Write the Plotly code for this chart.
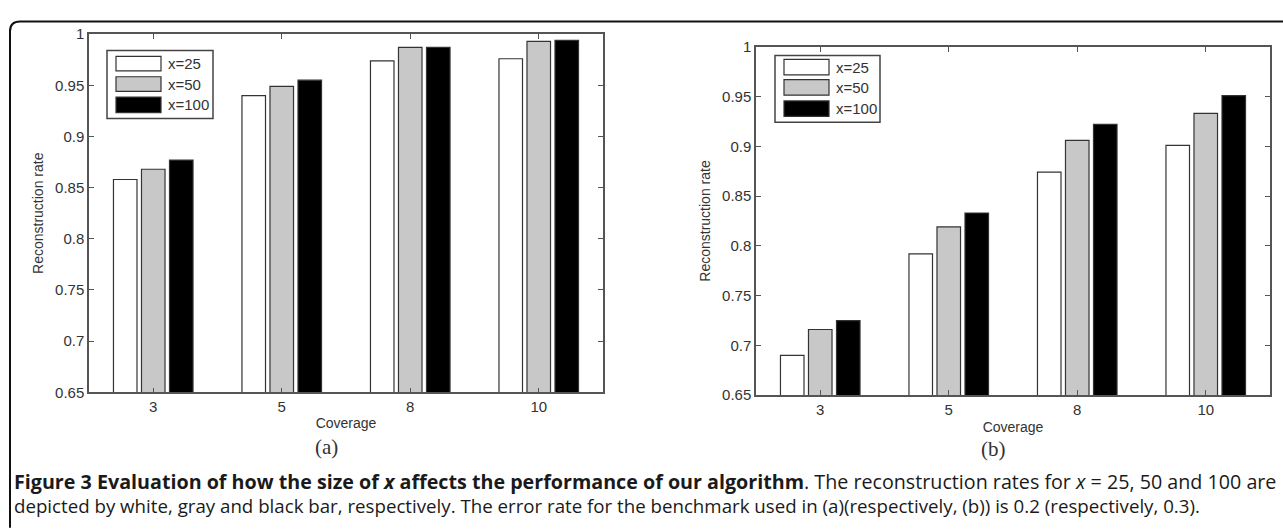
import plotly.graph_objects as go

W, H = 1283, 531

coverage = ["3", "5", "8", "10"]
series_names = ["x=25", "x=50", "x=100"]
series_colors = ["#ffffff", "#c8c8c8", "#000000"]

# panel (a): error rate 0.2
a_x25 = [0.858, 0.940, 0.974, 0.976]
a_x50 = [0.868, 0.949, 0.987, 0.993]
a_x100 = [0.877, 0.955, 0.987, 0.994]

# panel (b): error rate 0.3
b_x25 = [0.690, 0.792, 0.874, 0.901]
b_x50 = [0.716, 0.819, 0.906, 0.933]
b_x100 = [0.725, 0.833, 0.922, 0.951]

yticks = [0.65, 0.7, 0.75, 0.8, 0.85, 0.9, 0.95, 1]
ytick_text = ["0.65", "0.7", "0.75", "0.8", "0.85", "0.9", "0.95", "1"]


def px(x):
    return x / W


def py(y):
    return 1 - y / H


fig = go.Figure()

panels = [
    ("x", "y", [a_x25, a_x50, a_x100]),
    ("x2", "y2", [b_x25, b_x50, b_x100]),
]
for xa, ya, vals in panels:
    for name, color, v in zip(series_names, series_colors, vals):
        fig.add_trace(go.Bar(
            x=coverage, y=v, name=name, xaxis=xa, yaxis=ya,
            marker=dict(color=color, line=dict(color="#333333", width=1.2)),
            showlegend=False,
        ))

sans = "Liberation Sans Narrow, Arial Narrow, Liberation Sans, Arial"
tick_font = dict(family=sans, size=15, color="#333333")
title_font = dict(family=sans, size=14, color="#333333")

axis_common = dict(
    showline=True, linecolor="#555555", linewidth=1.5, mirror="ticks",
    ticks="inside", ticklen=5, tickcolor="#555555", tickwidth=1.3,
    showgrid=False, zeroline=False, tickfont=tick_font,
)

# panel geometry in pixels
A = dict(x0=89, x1=603, y0=26, y1=396)
B = dict(x0=756, x1=1270, y0=39, y1=399)

fig.update_layout(
    width=W, height=H,
    margin=dict(l=0, r=0, t=0, b=0),
    paper_bgcolor="white", plot_bgcolor="white",
    barmode="group", bargap=0.346, bargroupgap=0.16,
    xaxis=dict(domain=[px(A["x0"]), px(A["x1"])], anchor="y", type="category",
               categoryorder="array", categoryarray=coverage,
               title=dict(text="Coverage", font=title_font, standoff=4), **axis_common),
    yaxis=dict(domain=[py(A["y1"]), py(A["y0"])], anchor="x", range=[0.65, 1],
               tickvals=yticks, ticktext=ytick_text,
               title=dict(text="Reconstruction rate", font=title_font, standoff=8), **axis_common),
    xaxis2=dict(domain=[px(B["x0"]), px(B["x1"])], anchor="y2", type="category",
                categoryorder="array", categoryarray=coverage,
                title=dict(text="Coverage", font=title_font, standoff=5), **axis_common),
    yaxis2=dict(domain=[py(B["y1"]), py(B["y0"])], anchor="x2", range=[0.65, 1],
                tickvals=yticks, ticktext=ytick_text,
                title=dict(text="Reconstruction rate", font=title_font, standoff=8), **axis_common),
)

shapes = []
annotations = []

# custom legends (wide swatches like MATLAB)
legend_specs = [
    dict(box=(107, 43, 213, 113), sw_x=(116, 161), rows=[(49, 64), (70, 85), (91, 107)], tx=166),
    dict(box=(775, 48, 880, 117), sw_x=(784, 829), rows=[(52, 68), (73, 89), (95, 111)], tx=834),
]
for spec in legend_specs:
    bx0, by0, bx1, by1 = spec["box"]
    shapes.append(dict(type="rect", xref="paper", yref="paper",
                       x0=px(bx0), x1=px(bx1), y0=py(by1), y1=py(by0),
                       line=dict(color="#444444", width=1.5), fillcolor="white", layer="above"))
    for (ry0, ry1), name, color in zip(spec["rows"], series_names, series_colors):
        shapes.append(dict(type="rect", xref="paper", yref="paper",
                           x0=px(spec["sw_x"][0]), x1=px(spec["sw_x"][1]),
                           y0=py(ry1), y1=py(ry0),
                           line=dict(color="#333333", width=1.2), fillcolor=color, layer="above"))
        annotations.append(dict(xref="paper", yref="paper", x=px(spec["tx"]), y=py((ry0 + ry1) / 2),
                                text=name, showarrow=False, xanchor="left", yanchor="middle",
                                font=dict(family=sans, size=15, color="#333333")))

# panel labels
serif = "Liberation Serif, DejaVu Serif, serif"
annotations.append(dict(xref="paper", yref="paper", x=px(326), y=py(453), text="(a)",
                        showarrow=False, xanchor="center", yanchor="middle",
                        font=dict(family=serif, size=21, color="#333333")))
annotations.append(dict(xref="paper", yref="paper", x=px(993), y=py(455), text="(b)",
                        showarrow=False, xanchor="center", yanchor="middle",
                        font=dict(family=serif, size=21, color="#333333")))

# caption
cap_family = "Open Sans, Noto Sans, sans-serif"
line1 = ("<b>Figure 3 Evaluation of how the size of <i>x</i> affects the performance of our algorithm</b>. "
         "The reconstruction rates for <i>x</i> = 25, 50 and 100 are")
line2 = ("depicted by white, gray and black bar, respectively. The error rate for the benchmark used in "
         "(a)(respectively, (b)) is 0.2 (respectively, 0.3).")
annotations.append(dict(xref="paper", yref="paper", x=px(12), y=py(488), text=line1,
                        showarrow=False, xanchor="left", yanchor="middle",
                        font=dict(family=cap_family, size=19.7, color="#1a1a1a")))
annotations.append(dict(xref="paper", yref="paper", x=px(12), y=py(513), text=line2,
                        showarrow=False, xanchor="left", yanchor="middle",
                        font=dict(family=cap_family, size=18.7, color="#1a1a1a")))

# outer rounded frame (top-left corner visible)
x0, y0, r = 10, 13, 10
path = (f"M {px(x0)} {py(H + 5)} L {px(x0)} {py(y0 + r)} "
        f"Q {px(x0)} {py(y0)} {px(x0 + r)} {py(y0)} L {px(W + 5)} {py(y0)}")
shapes.append(dict(type="path", xref="paper", yref="paper", path=path,
                   line=dict(color="#111111", width=2)))

fig.update_layout(shapes=shapes, annotations=annotations)

post = (
    "var de=document.documentElement;de.style.margin='0';de.style.padding='0';de.style.overflow='hidden';"
    "document.body.style.margin='0';document.body.style.padding='0';document.body.style.overflow='hidden';"
    "var d=document.getElementById('{plot_id}');d.style.position='absolute';d.style.left='0px';d.style.top='0px';"
)
fig.write_html("out.html", post_script=post, config={"displayModeBar": False})
